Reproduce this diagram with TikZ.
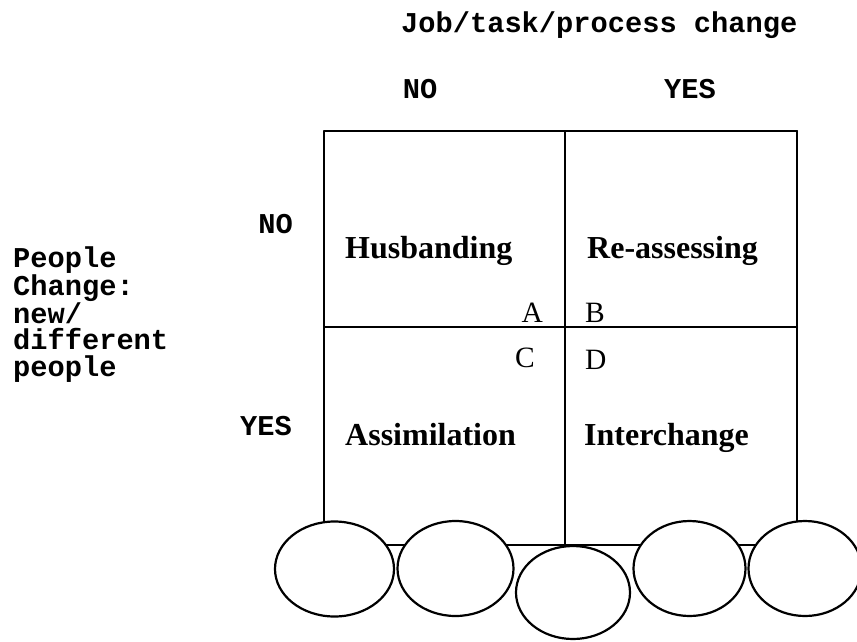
\documentclass[tikz,border=0pt]{standalone}
\usepackage{fontspec}
\usetikzlibrary{shapes.geometric,backgrounds}
\newfontfamily\courfont{Liberation Mono}
\newfontfamily\timesfont{Liberation Serif}
\begin{document}
\begin{tikzpicture}[x=1pt,y=-1pt,
  rule/.style={line width=2pt,line cap=round},
  axislabel/.style={inner sep=0pt,font=\courfont\bfseries\fontsize{28.7}{26.5}\selectfont},
  cellname/.style={inner sep=0pt,anchor=base west,font=\timesfont\bfseries\fontsize{32}{36}\selectfont},
  corner/.style={inner sep=0pt,font=\timesfont\fontsize{29.5}{34}\selectfont},
  blob/.style={ellipse,draw,line width=2.2pt,fill=white,inner sep=0pt,minimum height=95pt}]
\useasboundingbox (0,0) rectangle (857,641);

% axis headings
\node[axislabel,anchor=base west] (title) at (401,32) {Job/task/process change};
\node[axislabel,anchor=base] (colno) at (420,98) {NO};
\node[axislabel,anchor=base] (colyes) at (690,98) {YES};
\node[axislabel,anchor=base east] (rowno) at (293,233) {NO};
\node[axislabel,anchor=base east] (rowyes) at (292,435) {YES};
% the base anchor of a multi-line node sits on its last line
\node[axislabel,anchor=base west,align=left] (people) at (13,376)
  {People\\Change:\\new/\\different\\people};

% grid corners
\coordinate (tl) at (324,131);
\coordinate (tm) at (565,131);
\coordinate (tr) at (797,131);
\coordinate (ml) at (324,327);
\coordinate (mr) at (797,327);

% the five ellipses along the bottom
\node[blob,minimum width=119pt] (e1) at (334.5,569) {};
\node[blob,minimum width=116pt] (e2) at (455.5,568.5) {};
\node[blob,minimum width=114pt,minimum height=93pt] (e3) at (573,592.5) {};
\node[blob,minimum width=112pt] (e4) at (689.5,568.5) {};
\node[blob,minimum width=113pt] (e5) at (805,568.5) {};

\begin{pgfonlayer}{background}
  % quadrant lines
  \draw[rule] (tl) -- (tr);
  \draw[rule] (ml) -- (mr);
  \draw[rule] (tl) -- (tl |- e1.center);
  \draw[rule] (tm) -- (tm |- e3.north);
  \draw[rule] (tr) -- (tr |- e5.center);
  % line joining the ellipses
  \draw[rule] (e1.center |- e3.north) -- (e5.center |- e3.north);
\end{pgfonlayer}

% quadrant names
\node[cellname] (husb) at (345,258) {Husbanding};
\node[cellname] (reass) at (587,258) {Re-assessing};
\node[cellname] (assim) at (345,445) {Assimilation};
\node[cellname] (inter) at (584,445) {Interchange};

% corner letters
\node[corner,anchor=base east] (la) at (543,322) {A};
\node[corner,anchor=base west] (lb) at (585,322) {B};
\node[corner,anchor=base east] (lc) at (535,367) {C};
\node[corner,anchor=base west] (ld) at (585,369) {D};
\end{tikzpicture}
\end{document}
